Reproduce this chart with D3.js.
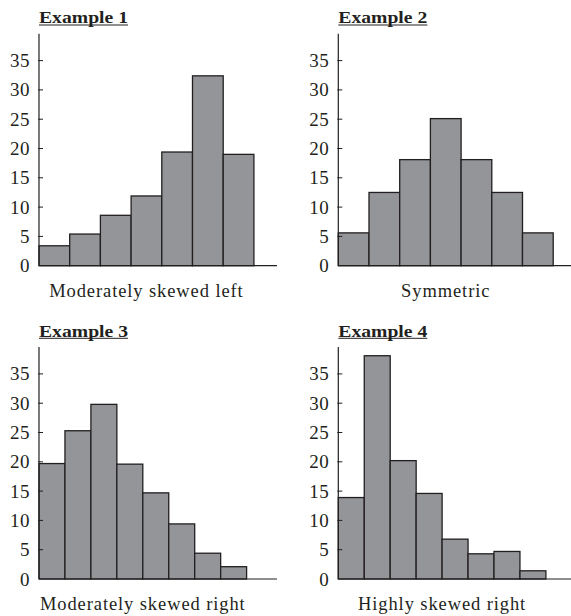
<!DOCTYPE html>
<html>
<head>
<meta charset="utf-8">
<script src="https://cdn.jsdelivr.net/npm/d3@7"></script>
<style>
  html, body { margin: 0; padding: 0; background: #fff; }
  svg { display: block; }
  text { font-family: "Liberation Serif", "Times New Roman", serif; fill: #231f20; }
</style>
</head>
<body>
<svg id="chart" width="571" height="616"></svg>
<script>
// ---- data ----
const titles = ["Example 1", "Example 2", "Example 3", "Example 4"];
const captions = ["Moderately skewed left", "Symmetric", "Moderately skewed right", "Highly skewed right"];
const example1 = [3.4, 5.4, 8.6, 11.9, 19.4, 32.4, 19.0];
const example2 = [5.6, 12.5, 18.1, 25.1, 18.1, 12.5, 5.6];
const example3 = [19.7, 25.3, 29.8, 19.6, 14.7, 9.4, 4.4, 2.1];
const example4 = [13.9, 38.1, 20.2, 14.6, 6.8, 4.3, 4.7, 1.4];
const yTicks = [0, 5, 10, 15, 20, 25, 30, 35];
const yMax = 39.6;

const series = [example1, example2, example3, example4];

// ---- layout ----
const panels = [
  { ox: 39,    zeroY: 265.7, binW: 30.7 },
  { ox: 338.3, zeroY: 265.7, binW: 30.7 },
  { ox: 39,    zeroY: 579,   binW: 25.95 },
  { ox: 338.3, zeroY: 579,   binW: 25.95 }
];
const axisLen = 238;
const pxPerUnit = 5.86;

const svg = d3.select("#chart");

panels.forEach((p, i) => {
  const vals = series[i];
  const n = vals.length;
  const x = d3.scaleLinear().domain([0, axisLen / p.binW]).range([p.ox, p.ox + axisLen]);
  const y = d3.scaleLinear().domain([0, yMax]).range([p.zeroY, p.zeroY - yMax * pxPerUnit]);
  const g = svg.append("g");

  // bars
  g.selectAll("rect").data(vals).join("rect")
    .attr("x", (d, j) => x(j))
    .attr("width", (d, j) => x(j + 1) - x(j))
    .attr("y", d => y(d))
    .attr("height", d => y(0) - y(d))
    .attr("fill", "#939598")
    .attr("stroke", "#231f20")
    .attr("stroke-width", 1.3);

  // y axis
  const yAxis = d3.axisLeft(y).tickValues(yTicks).tickSize(0).tickPadding(9).tickFormat(d3.format("d"));
  const ya = g.append("g").attr("transform", `translate(${p.ox},0)`).call(yAxis);
  ya.select(".domain").remove();
  ya.selectAll("text").style("font-size", "19px").style("letter-spacing", "0.5px");
  // tick marks
  g.selectAll("line.tick").data(yTicks.filter(t => t > 0)).join("line")
    .attr("class", "tick")
    .attr("x1", p.ox - 1).attr("x2", p.ox + 4)
    .attr("y1", d => y(d)).attr("y2", d => y(d))
    .attr("stroke", "#231f20").attr("stroke-width", 1);
  // axis lines
  g.append("line")
    .attr("x1", p.ox).attr("x2", p.ox)
    .attr("y1", y(yMax)).attr("y2", y(0))
    .attr("stroke", "#231f20").attr("stroke-width", 1.2);
  g.append("line")
    .attr("x1", p.ox).attr("x2", p.ox + axisLen)
    .attr("y1", y(0)).attr("y2", y(0))
    .attr("stroke", "#231f20").attr("stroke-width", 1.2);

  // title
  const tY = y(0) - 242.5;
  g.append("text")
    .attr("x", p.ox).attr("y", tY)
    .attr("font-size", 16.5).attr("font-weight", "bold")
    .attr("textLength", 89).attr("lengthAdjust", "spacingAndGlyphs")
    .text(titles[i]);
  g.append("line")
    .attr("x1", p.ox).attr("x2", p.ox + 89)
    .attr("y1", tY + 1.8).attr("y2", tY + 1.8)
    .attr("stroke", "#231f20").attr("stroke-width", 1);

  // caption
  g.append("text")
    .attr("x", (x(0) + x(n)) / 2).attr("y", y(0) + 31)
    .attr("text-anchor", "middle")
    .style("font-size", "18.5px")
    .style("letter-spacing", "0.9px")
    .text(captions[i]);
});
</script>
</body>
</html>
